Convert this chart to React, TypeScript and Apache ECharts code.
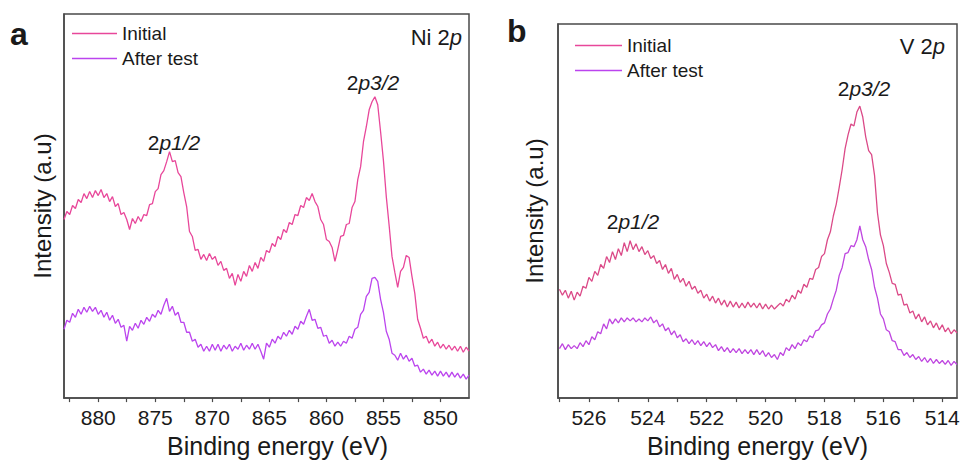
import React, { useEffect, useRef } from "react";
import * as echarts from "echarts";

const FONT = '"Liberation Sans", Arial, Helvetica, sans-serif';

// Panel a: Ni 2p, binding energy grid 883 -> 847.5 eV, step 0.25 eV
const niStart = 883;
const niStep = 0.25;
const niInitial = [
  200, 208, 205, 214, 211, 220, 217, 226, 221, 228,
  222, 229, 224, 230, 222, 226, 218, 223, 213, 216,
  205, 207, 200, 190, 201, 196, 203, 198, 205, 204,
  215, 216, 228, 231, 245, 249, 258, 268, 258, 259,
  247, 243, 227, 213, 188, 183, 169, 170, 160, 165,
  159, 166, 160, 163, 154, 158, 149, 151, 141, 146,
  134, 145, 138, 148, 143, 154, 148, 157, 151, 162,
  158, 169, 167, 176, 173, 183, 180, 190, 187, 197,
  195, 205, 204, 214, 212, 222, 219, 226, 218, 213,
  200, 195, 180, 178, 172, 158, 170, 183, 184, 195,
  196, 212, 218, 240, 253, 278, 293, 310, 318, 323,
  315, 288, 259, 223, 194, 163, 147, 132, 148, 152,
  164, 162, 143, 126, 100, 91, 81, 83, 76, 80,
  73, 77, 71, 75, 70, 74, 69, 73, 68, 73,
  67, 72, 68,
];
const niAfter = [
  90, 99, 97, 106, 102, 110, 105, 112, 107, 113,
  108, 112, 105, 109, 102, 107, 99, 104, 96, 100,
  92, 94, 78, 93, 89, 96, 91, 99, 95, 102,
  98, 105, 102, 109, 105, 114, 121, 108, 113, 104,
  107, 97, 97, 87, 87, 78, 80, 72, 75, 68,
  73, 68, 75, 69, 75, 68, 74, 70, 75, 68,
  73, 70, 76, 69, 74, 70, 76, 70, 75, 68,
  60, 76, 72, 80, 76, 83, 80, 87, 83, 89,
  85, 93, 90, 98, 95, 103, 110, 99, 100, 91,
  92, 83, 84, 76, 79, 73, 77, 73, 78, 76,
  83, 81, 90, 92, 105, 109, 123, 127, 141, 142,
  138, 120, 107, 88, 80, 66, 64, 59, 66, 60,
  64, 58, 61, 53, 54, 47, 50, 45, 49, 44,
  48, 43, 48, 43, 47, 42, 47, 42, 46, 41,
  45, 40, 44,
];

// Panel b: V 2p, binding energy grid 527.0 -> 513.5 eV, step 0.1 eV
const vStart = 527.0;
const vStep = 0.1;
const vInitial = [
  128, 122, 127, 119, 126, 117, 125, 121, 131, 129,
  140, 136, 146, 142, 153, 149, 161, 155, 166, 158,
  169, 162, 175, 166, 177, 168, 174, 166, 171, 163,
  167, 159, 162, 154, 157, 148, 153, 144, 149, 138,
  143, 135, 139, 131, 136, 128, 131, 124, 127, 119,
  123, 116, 121, 114, 119, 112, 117, 110, 116, 110,
  115, 109, 114, 109, 115, 110, 114, 109, 114, 108,
  113, 108, 112, 108, 111, 114, 111, 118, 115, 122,
  118, 127, 124, 133, 130, 139, 138, 148, 150, 161,
  164, 178, 186, 202, 214, 231, 249, 270, 284, 295,
  293, 307, 313, 302, 282, 268, 264, 243, 205, 183,
  172, 154, 145, 134, 133, 122, 123, 112, 113, 104,
  106, 98, 103, 95, 100, 92, 96, 89, 94, 87,
  92, 85, 89, 83, 87, 84,
];
const vAfter = [
  68, 73, 67, 72, 68, 71, 68, 74, 70, 76,
  72, 80, 77, 85, 83, 93, 88, 98, 93, 98,
  94, 99, 95, 99, 96, 99, 95, 98, 95, 99,
  96, 100, 94, 97, 90, 93, 86, 89, 82, 86,
  79, 82, 75, 78, 73, 77, 72, 76, 71, 75,
  70, 74, 69, 72, 66, 70, 65, 69, 64, 68,
  64, 68, 63, 67, 63, 67, 62, 67, 62, 66,
  60, 64, 59, 62, 57, 64, 61, 69, 66, 72,
  68, 74, 71, 77, 75, 81, 79, 86, 87, 92,
  94, 103, 108, 118, 127, 142, 150, 164, 165, 172,
  171, 178, 192, 178, 171, 158, 148, 130, 119, 103,
  98, 87, 85, 76, 75, 67, 67, 61, 64, 59,
  62, 57, 60, 55, 59, 54, 58, 53, 57, 53,
  56, 52, 56, 51, 55, 52,
];

const niTickValues = [850, 852.5, 855, 857.5, 860, 862.5, 865, 867.5, 870, 872.5, 875, 877.5, 880, 882.5];
const niLabelValues = [850, 855, 860, 865, 870, 875, 880];
const vTickValues = [514, 515, 516, 517, 518, 519, 520, 521, 522, 523, 524, 525, 526, 527];
const vLabelValues = [514, 516, 518, 520, 522, 524, 526];

const seriesNames = ["Initial", "After test"];

const toPairs = (vals: number[], start: number, step: number) =>
  vals.map((v, i) => [Number((start - i * step).toFixed(3)), v]);

const AXIS_COLOR = "#4a4a4a";

function xAxisFor(gridIndex: number, min: number, max: number, ticks: number[], labels: number[], titlePad: number[]) {
  return {
    type: "value",
    gridIndex,
    inverse: true,
    min,
    max,
    name: "Binding energy (eV)",
    nameLocation: "middle",
    nameGap: 32,
    nameTextStyle: { fontSize: 25, fontFamily: FONT, color: "#1a1a1a", padding: titlePad },
    axisLine: { show: true, onZero: false, lineStyle: { color: AXIS_COLOR, width: 1.5 } },
    axisTick: { show: true, length: 4, customValues: ticks, lineStyle: { color: AXIS_COLOR, width: 1.2 } },
    axisLabel: {
      customValues: labels,
      fontSize: 21,
      fontFamily: FONT,
      color: "#1a1a1a",
      margin: 9,
      formatter: (v: number) => String(v),
    },
    splitLine: { show: false },
  };
}

function yAxisFor(gridIndex: number, min: number, max: number, gap: number) {
  return {
    type: "value",
    gridIndex,
    min,
    max,
    name: "Intensity (a.u)",
    nameLocation: "middle",
    nameGap: gap,
    nameTextStyle: { fontSize: 24, fontFamily: FONT, color: "#1a1a1a" },
    axisLine: { show: true, lineStyle: { color: AXIS_COLOR, width: 1.5 } },
    axisTick: { show: false },
    axisLabel: { show: false },
    splitLine: { show: false },
  };
}

const italicRich = (size: number) => ({
  i: { fontStyle: "italic", fontSize: size, fontFamily: FONT, fill: "#1a1a1a" },
});

function textEl(text: string, x: number, y: number, size: number, align: string, bold = false) {
  return {
    type: "text",
    x,
    y,
    silent: true,
    style: {
      text,
      fontSize: size,
      fontFamily: FONT,
      fontWeight: bold ? "bold" : "normal",
      fill: "#1a1a1a",
      align,
      verticalAlign: "middle",
      rich: italicRich(size),
    },
  };
}

export default function App() {
  const ref = useRef<HTMLDivElement>(null);

  useEffect(() => {
    if (!ref.current) return;
    const chart = echarts.init(ref.current, undefined, { renderer: "svg" });

    const lineSeries = (name: string, data: number[][], color: string, idx: number) => ({
      type: "line",
      name,
      xAxisIndex: idx,
      yAxisIndex: idx,
      data,
      showSymbol: false,
      symbol: "none",
      lineStyle: { color, width: 1.3 },
      itemStyle: { color },
      emphasis: { disabled: true },
    });

    const legendFor = (left: number, top: number, itemWidth: number) => ({
      orient: "vertical",
      left,
      top,
      icon: "rect",
      itemWidth,
      itemHeight: 1.6,
      itemGap: 6,
      padding: 0,
      selectedMode: false,
      data: seriesNames,
      textStyle: { fontSize: 19, fontFamily: FONT, color: "#1a1a1a" },
    });

    chart.setOption({
      animation: false,
      backgroundColor: "#ffffff",
      grid: [
        { left: 64, top: 14, width: 405, height: 385, show: true, borderColor: AXIS_COLOR, borderWidth: 1.5 },
        { left: 558, top: 24, width: 399, height: 378, show: true, borderColor: AXIS_COLOR, borderWidth: 1.5 },
      ],
      legend: [legendFor(72, 24, 45), legendFor(575, 36, 47)],
      xAxis: [
        xAxisFor(0, 847.5, 883, niTickValues, niLabelValues, [0, 0, 0, 22]),
        xAxisFor(1, 513.5, 527.05, vTickValues, vLabelValues, [0, 0, 0, 0]),
      ],
      yAxis: [yAxisFor(0, 21, 406, 10), yAxisFor(1, 18, 396, 12)],
      series: [
        lineSeries(seriesNames[0], toPairs(niInitial, niStart, niStep), "#e8479a", 0),
        lineSeries(seriesNames[1], toPairs(niAfter, niStart, niStep), "#bb44ee", 0),
        lineSeries(seriesNames[0], toPairs(vInitial, vStart, vStep), "#db4a88", 1),
        lineSeries(seriesNames[1], toPairs(vAfter, vStart, vStep), "#bf46e0", 1),
      ],
      graphic: [
        textEl("a", 10, 34, 32, "left", true),
        textEl("b", 507, 31, 32, "left", true),
        textEl("Ni 2{i|p}", 462, 37, 22, "right"),
        textEl("V 2{i|p}", 945, 46, 22, "right"),
        textEl("2{i|p3/2}", 373, 82, 21, "center"),
        textEl("2{i|p1/2}", 174, 142, 21, "center"),
        textEl("2{i|p3/2}", 864, 88, 21, "center"),
        textEl("2{i|p1/2}", 633, 221, 21, "center"),
      ],
    });

    return () => chart.dispose();
  }, []);

  return (
    <div
      ref={ref}
      style={{ position: "absolute", left: 0, top: 0, width: 963, height: 463, background: "#fff" }}
    />
  );
}
